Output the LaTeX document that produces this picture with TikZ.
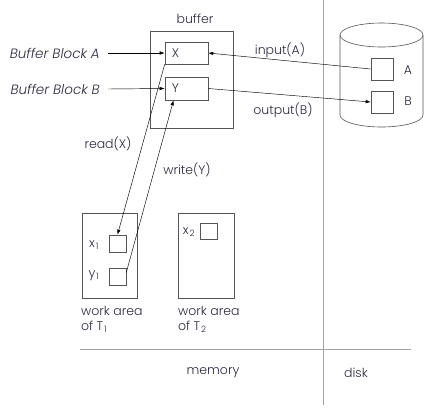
\documentclass[tikz,border=0pt]{standalone}
\usepackage{fontspec}
\setmainfont{Poppins}[UprightFont=* Light, ItalicFont=* Light Italic]
\usepackage{xcolor}
\usepackage{tikz}
\usetikzlibrary{arrows.meta,positioning}
\definecolor{bufink}{RGB}{42,42,62}
\definecolor{bufline}{RGB}{85,85,85}
\definecolor{bufsep}{RGB}{165,165,165}
\newcommand{\subnum}[1]{\kern1pt\textsubscript{#1}}
\tikzset{
  blk/.style={draw=bufline, line width=0.6pt, inner sep=0pt},
  lbl/.style={text=bufink, font=\fontsize{12.5}{15}\selectfont, inner sep=0pt},
  itlbl/.style={lbl, font=\fontsize{13.5}{15}\selectfont\itshape},
  arr/.style={-{Latex[length=5pt,width=3.5pt]}, line width=0.45pt, color=black}
}

\begin{document}
\begin{tikzpicture}[x=1pt, y=-1pt]
\useasboundingbox (0,0) rectangle (426,408);
% separators
\coordinate (vtop) at (323,0);
\coordinate (vbot) at (323,405);
\coordinate (hl) at (80,349);
\coordinate (hr) at (411,349);
\draw[bufsep, line width=0.7pt] (vtop) -- (vbot);
\draw[bufsep, line width=0.7pt] (hl) -- (hr);
% buffer
\node[blk, minimum width=83pt, minimum height=97pt] (buf) at (191.5,79.5) {};
\node[lbl] (buflbl) at (195,19) {buffer};
\node[blk, minimum width=43pt, minimum height=22pt] (X) at (186.5,53) {};
\node[lbl, anchor=west] at ([xshift=7pt]X.west) {X};
\node[blk, minimum width=43pt, minimum height=23pt] (Y) at (186.5,88.5) {};
\node[lbl, anchor=west] at ([xshift=7pt]Y.west) {Y};
\node[itlbl, anchor=east] (blkA) at (100,53) {Buffer Block A};
\node[itlbl, anchor=east] (blkB) at (100,89) {Buffer Block B};
\draw[arr] ([xshift=8pt]blkA.east) -- (X.west);
\draw[arr] ([xshift=8pt]blkB.east) -- (Y.west);
% disk
\draw[bufline, line width=0.6pt] (381.5,35) ellipse (41.5 and 12);
\draw[bufline, line width=0.6pt] (340,35) -- (340,115) arc[start angle=180, end angle=360, x radius=41.5, y radius=-12] -- (423,35);
\node[blk, minimum width=22pt, minimum height=22pt] (dA) at (382,69) {};
\node[lbl] at (408,70) {A};
\node[blk, minimum width=22pt, minimum height=22pt] (dB) at (382,102) {};
\node[lbl] at (408,101) {B};
\draw[arr] (dA.west) -- (X.east);
\draw[arr] (Y.east) -- (dB.west);
\node[lbl] (inA) at (280,50) {input(A)};
\node[lbl] (outB) at (283,110) {output(B)};
% work areas
\node[blk, minimum width=55pt, minimum height=85pt] (wa1) at (109.5,255.5) {};
\node[blk, minimum width=17pt, minimum height=17pt] (x1) at (117.5,243.5) {};
\node[blk, minimum width=17pt, minimum height=17pt] (y1) at (117.5,276.5) {};
\node[lbl] at (94,245) {x\subnum{1}};
\node[lbl] at (94,276) {y\subnum{1}};
\node[lbl, anchor=west, align=left] at (81,319.5) {work area\\of T\subnum{1}};
\node[blk, minimum width=56pt, minimum height=85pt] (wa2) at (206,255.5) {};
\node[blk, minimum width=17pt, minimum height=16pt] (x2) at (208.5,231) {};
\node[lbl] at (189,232) {x\subnum{2}};
\node[lbl, anchor=west, align=left] at (178,319.5) {work area\\of T\subnum{2}};
% read / write
\draw[arr] (X.south west) -- (x1.north);
\draw[arr] ([yshift=4pt]y1.east) -- ([xshift=-13pt]Y.south);
\node[lbl] (rd) at (108,144) {read(X)};
\node[lbl] (wr) at (187,170) {write(Y)};
% bottom labels
\node[lbl] (mem) at (213,373) {memory};
\node[lbl] (dsk) at (356,373) {disk};
\end{tikzpicture}
\end{document}
